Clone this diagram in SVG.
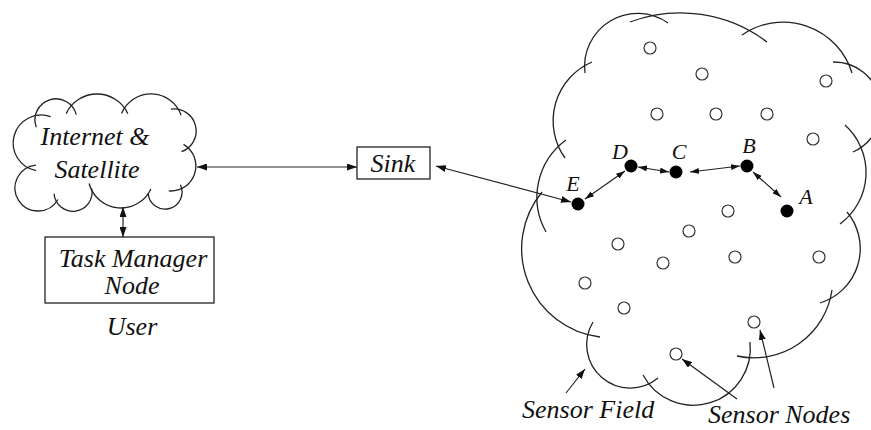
<svg xmlns="http://www.w3.org/2000/svg" width="871" height="430" viewBox="0 0 871 430">
<defs>
<style>
.cl{fill:none;stroke:#222;stroke-width:1.3}
.ln{fill:none;stroke:#222;stroke-width:1.2}
.bx{fill:#fff;stroke:#222;stroke-width:1.3}
.sn{fill:#fff;stroke:#333;stroke-width:1.2}
.fn{fill:#000}
text{font-family:"Liberation Serif","Times New Roman",serif;font-style:italic;fill:#111}
.t26{font-size:26px}
.t22{font-size:22px}
</style>
<marker id="ah" viewBox="0 0 10 7" refX="10" refY="3.5" markerWidth="10" markerHeight="7" markerUnits="userSpaceOnUse" orient="auto-start-reverse">
<path d="M0,0 L10,3.5 L0,7 z" fill="#111"/>
</marker>
<marker id="as" viewBox="0 0 9 6" refX="9" refY="3" markerWidth="9" markerHeight="6" markerUnits="userSpaceOnUse" orient="auto-start-reverse">
<path d="M0,0 L9,3 L0,6 z" fill="#111"/>
</marker>
</defs>
<rect width="871" height="430" fill="#fff"/>

<g id="internet-cloud">
<path class="cl" d="M36.3,127.2 A21,21 0 1 1 76.3,114.6"/>
<path class="cl" d="M66.2,113.6 A34,34 0 0 1 127.8,113.6"/>
<path class="cl" d="M121.5,113.5 A32,32 0 0 1 181.1,115.1"/>
<path class="cl" d="M170.9,109.2 A22,22 0 0 1 181.5,151.7"/>
<path class="cl" d="M183.5,144.4 A25,25 0 0 1 168.8,190.9"/>
<path class="cl" d="M180.4,184.8 A17,17 0 1 1 148.1,193.5"/>
<path class="cl" d="M150.9,188.9 A33,33 0 0 1 89.1,183.5"/>
<path class="cl" d="M91.7,188.7 A19,19 0 1 1 54.1,193.7"/>
<path class="cl" d="M57.9,199.5 A23,23 0 1 1 36,165.1"/>
<path class="cl" d="M36.1,170.6 A28,28 0 1 1 50.6,116.7"/>
<text class="t26" x="95" y="145" text-anchor="middle">Internet &amp;</text>
<text class="t26" x="97" y="178" text-anchor="middle">Satellite</text>
</g>

<g id="task-manager">
<rect class="bx" x="45" y="237" width="169" height="66"/>
<text class="t26" x="133" y="267" text-anchor="middle">Task Manager</text>
<text class="t26" x="132" y="294" text-anchor="middle">Node</text>
</g>

<g id="user-label">
<text class="t26" x="132" y="335" text-anchor="middle">User</text>
</g>

<g id="sink">
<rect class="bx" x="357" y="147" width="73" height="32"/>
<text class="t26" x="393" y="172" text-anchor="middle">Sink</text>
</g>

<g id="sensor-field">
<path class="cl" d="M585,73 A53,53 0 0 1 668,23"/>
<path class="cl" d="M630,22 A144,144 0 0 1 767,42"/>
<path class="cl" d="M742,35 A72,72 0 0 1 852,73"/>
<path class="cl" d="M833,62 A47,47 0 0 1 853,152"/>
<path class="cl" d="M845,125 A64,64 0 0 1 840,224"/>
<path class="cl" d="M847,212 A57,57 0 0 1 820,303"/>
<path class="cl" d="M832,290 A79,79 0 0 1 737,356"/>
<path class="cl" d="M750,342 A57,57 0 0 1 643,375"/>
<path class="cl" d="M658,378 A43.5,43.5 0 0 1 593,322"/>
<path class="cl" d="M600,337 A89,89 0 0 1 542,192"/>
<path class="cl" d="M546,232 A71,71 0 0 1 566,140"/>
<path class="cl" d="M565,158 A64,64 0 0 1 592,62"/>
</g>

<g id="sensor-nodes">
<circle class="sn" cx="650" cy="48" r="6"/>
<circle class="sn" cx="702" cy="74" r="6"/>
<circle class="sn" cx="826" cy="81" r="6"/>
<circle class="sn" cx="657" cy="114" r="6"/>
<circle class="sn" cx="716" cy="114" r="6"/>
<circle class="sn" cx="767" cy="114" r="6"/>
<circle class="sn" cx="813" cy="139" r="6"/>
<circle class="sn" cx="728" cy="211" r="6"/>
<circle class="sn" cx="689" cy="231" r="6"/>
<circle class="sn" cx="618" cy="244" r="6"/>
<circle class="sn" cx="663" cy="263" r="6"/>
<circle class="sn" cx="735" cy="257" r="6"/>
<circle class="sn" cx="819" cy="257" r="6"/>
<circle class="sn" cx="585" cy="283" r="6"/>
<circle class="sn" cx="624" cy="308" r="6"/>
<circle class="sn" cx="754" cy="322" r="6"/>
<circle class="sn" cx="676" cy="354" r="6"/>
</g>

<g id="node-E"><circle class="fn" cx="578" cy="204" r="6.5"/><text class="t22" x="573" y="191" text-anchor="middle">E</text></g>
<g id="node-D"><circle class="fn" cx="631" cy="166" r="6.5"/><text class="t22" x="620" y="159" text-anchor="middle">D</text></g>
<g id="node-C"><circle class="fn" cx="676" cy="172" r="6.5"/><text class="t22" x="679" y="159" text-anchor="middle">C</text></g>
<g id="node-B"><circle class="fn" cx="747" cy="166" r="6.5"/><text class="t22" x="749" y="153" text-anchor="middle">B</text></g>
<g id="node-A"><circle class="fn" cx="787" cy="211" r="6.5"/><text class="t22" x="806" y="204" text-anchor="middle">A</text></g>

<g id="labels">
<text class="t26" x="522" y="418">Sensor Field</text>
<text class="t26" x="708" y="423">Sensor Nodes</text>
</g>

<g id="connectors">
<line class="ln" x1="197" y1="167" x2="357" y2="167" marker-start="url(#ah)" marker-end="url(#ah)"/>
<line class="ln" x1="123" y1="207" x2="123" y2="237" marker-start="url(#ah)" marker-end="url(#ah)"/>
<line class="ln" x1="436" y1="166" x2="571" y2="202" marker-start="url(#ah)" marker-end="url(#ah)"/>
<line class="ln" x1="585" y1="199" x2="625" y2="171" marker-start="url(#as)" marker-end="url(#as)"/>
<line class="ln" x1="638" y1="167" x2="669" y2="172" marker-start="url(#as)" marker-end="url(#as)"/>
<line class="ln" x1="690" y1="172" x2="740" y2="166" marker-start="url(#as)" marker-end="url(#as)"/>
<line class="ln" x1="753" y1="172" x2="781" y2="197" marker-start="url(#as)" marker-end="url(#as)"/>
<line class="ln" x1="566" y1="393" x2="585" y2="369" marker-end="url(#ah)"/>
<line class="ln" x1="737" y1="399" x2="682" y2="359" marker-end="url(#ah)"/>
<line class="ln" x1="774" y1="388" x2="760" y2="330" marker-end="url(#ah)"/>
</g>
</svg>
